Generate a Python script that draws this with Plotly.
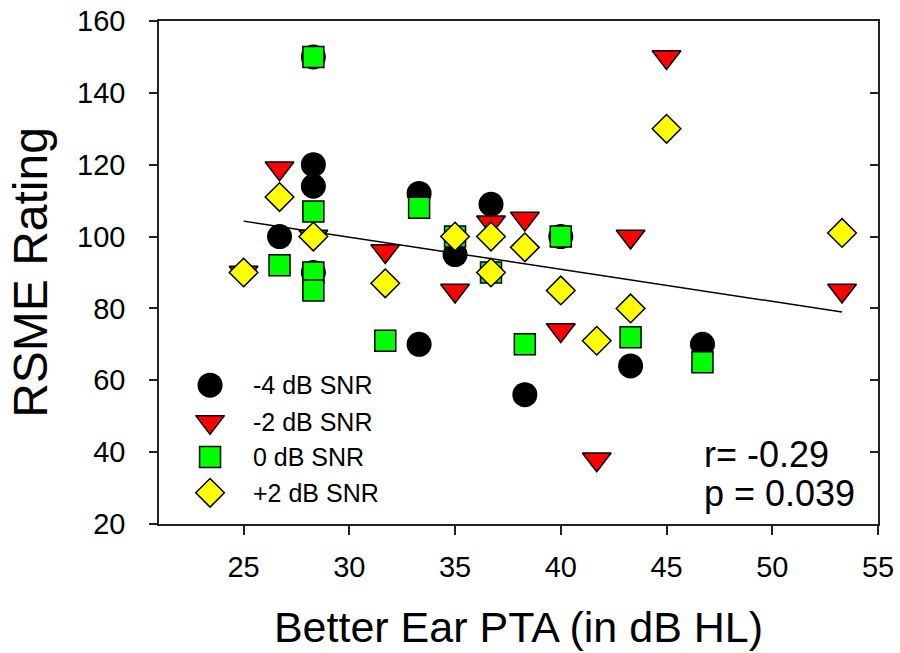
import plotly.graph_objects as go

# ---- data ----
snr_m4_x = [26.7, 28.3, 28.3, 28.3, 28.3, 33.3, 33.3, 35, 36.7, 38.3, 40, 43.3, 46.7]
snr_m4_y = [100, 150, 120, 114, 90, 112, 70, 95, 109, 56, 100, 64, 70]

snr_m2_x = [25, 26.7, 28.3, 31.7, 35, 36.7, 38.3, 40, 41.7, 43.3, 45, 53.3]
snr_m2_y = [90, 119, 100, 96, 85, 104, 105, 74, 38, 100, 150, 85]

snr_0_x = [26.7, 28.3, 28.3, 28.3, 28.3, 31.7, 33.3, 35, 36.7, 38.3, 40, 43.3, 46.7]
snr_0_y = [92, 150, 107, 90, 85, 71, 108, 100, 90, 70, 100, 72, 65]

snr_p2_x = [25, 26.7, 28.3, 31.7, 35, 36.7, 36.7, 38.3, 40, 41.7, 43.3, 45, 53.3]
snr_p2_y = [90, 111, 100, 87, 100, 100, 90, 97, 85, 71, 80, 130, 101]

fit_x = [25, 53.3]
fit_y = [104.3, 79.0]

series_names = ["-4 dB SNR", "-2 dB SNR", "0 dB SNR", "+2 dB SNR"]
x_ticks = [25, 30, 35, 40, 45, 50, 55]
y_ticks = [20, 40, 60, 80, 100, 120, 140, 160]

FONT = "Arial, Liberation Sans, sans-serif"

styles = [
    dict(symbol="circle", size=25, color="black", line=dict(width=0, color="black")),
    dict(symbol="triangle-down", size=25, color="#FF0000", line=dict(width=1.5, color="black")),
    dict(symbol="square", size=21, color="#00FF00", line=dict(width=1.5, color="black")),
    dict(symbol="diamond", size=22, color="#FFFF00", line=dict(width=1.5, color="black")),
]
series = [(snr_m4_x, snr_m4_y), (snr_m2_x, snr_m2_y), (snr_0_x, snr_0_y), (snr_p2_x, snr_p2_y)]

fig = go.Figure()
fig.add_trace(go.Scatter(x=fit_x, y=fit_y, mode="lines", line=dict(color="black", width=1.5),
                         showlegend=False, hoverinfo="skip"))
for (sx, sy), st, nm in zip(series, styles, series_names):
    fig.add_trace(go.Scatter(x=sx, y=sy, mode="markers", name=nm, marker=st, showlegend=False))

# manual legend on an overlay axis (fraction coordinates of the plot area)
leg_x = 0.071
leg_text_x = 0.128
leg_rows = [0.276, 0.203, 0.133, 0.062]
for st, row, nm in zip(styles, leg_rows, series_names):
    fig.add_trace(go.Scatter(x=[leg_x], y=[row], mode="markers", marker=st, xaxis="x2", yaxis="y3",
                             showlegend=False, hoverinfo="skip"))
    fig.add_annotation(x=leg_text_x, y=row, xref="x2", yref="y3", text=nm, showarrow=False,
                       xanchor="left", yanchor="middle", font=dict(family=FONT, size=25, color="black"))

# invisible trace to anchor right axis
fig.add_trace(go.Scatter(x=[None], y=[None], yaxis="y2", showlegend=False, hoverinfo="skip"))

fig.add_annotation(x=0.755, y=0.138, xref="paper", yref="paper", text="r= -0.29", showarrow=False,
                   xanchor="left", yanchor="middle", font=dict(family=FONT, size=36, color="black"))
fig.add_annotation(x=0.755, y=0.061, xref="paper", yref="paper", text="p = 0.039", showarrow=False,
                   xanchor="left", yanchor="middle", font=dict(family=FONT, size=36, color="black"))

fig.update_layout(
    width=900, height=653,
    margin=dict(l=159, r=22, t=21, b=129),
    paper_bgcolor="white", plot_bgcolor="white",
    font=dict(family=FONT, color="black"),
    showlegend=False,
    xaxis=dict(range=[21, 55], tickvals=x_ticks, ticks="outside", ticklen=9, tickwidth=1.5,
               tickcolor="#222", showline=True, linecolor="#222", linewidth=1.5, mirror=True,
               showgrid=False, zeroline=False, tickfont=dict(size=29, family=FONT),
               ticklabelstandoff=7, automargin=False,
               title=dict(text="Better Ear PTA (in dB HL)", font=dict(size=43, family=FONT), standoff=30)),
    yaxis=dict(range=[20, 160], tickvals=y_ticks, ticks="outside", ticklen=8, tickwidth=1.5,
               tickcolor="#222", showline=True, linecolor="#222", linewidth=1.5,
               showgrid=False, zeroline=False, tickfont=dict(size=29, family=FONT),
               ticklabelstandoff=18, automargin=False,
               title=dict(text="RSME Rating", font=dict(size=48, family=FONT), standoff=14)),
    yaxis2=dict(range=[20, 160], tickvals=y_ticks, overlaying="y", side="right", ticks="inside",
                ticklen=8, tickwidth=1.5, tickcolor="#222", showline=True, linecolor="#222",
                linewidth=1.5, showticklabels=False, showgrid=False, zeroline=False, automargin=False),
    xaxis2=dict(range=[0, 1], overlaying="x", visible=False, automargin=False),
    yaxis3=dict(range=[0, 1], overlaying="y", visible=False, automargin=False),
)

fig.write_html("out.html", config={"displayModeBar": False},
               post_script="document.body.style.margin='0';document.body.style.padding='0';")
